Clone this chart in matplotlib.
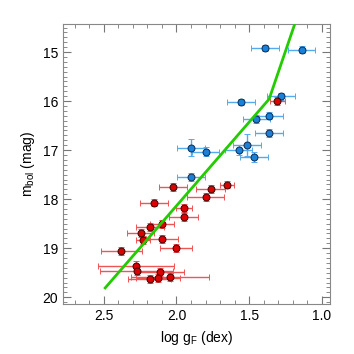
import matplotlib
matplotlib.use("Agg")
import matplotlib.pyplot as plt
from matplotlib.ticker import MultipleLocator

plt.rcParams['font.family'] = ['Liberation Sans', 'DejaVu Sans']

# Blue sample
blue_x = [1.392, 1.14, 1.281, 1.555, 1.365, 1.45, 1.365, 1.90, 1.80, 1.516, 1.573, 1.468, 1.90]
blue_y = [14.92, 14.95, 15.90, 16.02, 16.30, 16.36, 16.65, 16.95, 17.03, 16.90, 16.99, 17.14, 17.55]
blue_xerr = [0.095, 0.095, 0.095, 0.095, 0.095, 0.095, 0.095, 0.095, 0.095, 0.095, 0.095, 0.095, 0.095]
blue_yerr = [0.06, 0.07, 0.07, 0.07, 0.07, 0.08, 0.08, 0.18, 0.10, 0.22, 0.10, 0.10, 0.08]

# Red sample
red_x = [1.306, 2.023, 1.763, 1.653, 1.80, 2.153, 1.95, 1.95, 2.10, 2.181, 2.247, 2.10, 2.229,
         2.005, 2.38, 2.279, 2.274, 2.116, 2.046, 2.128, 2.185]
red_y = [16.0, 17.76, 17.80, 17.71, 17.96, 18.07, 18.18, 18.37, 18.51, 18.56, 18.69, 18.82, 18.84,
         18.99, 19.05, 19.37, 19.47, 19.49, 19.59, 19.60, 19.63]
red_xerr = [0.05, 0.095, 0.10, 0.05, 0.13, 0.095, 0.055, 0.10, 0.085, 0.095, 0.095, 0.11, 0.05,
            0.11, 0.14, 0.26, 0.25, 0.17, 0.27, 0.15, 0.15]
red_yerr = [0.08, 0.08, 0.08, 0.07, 0.08, 0.08, 0.08, 0.08, 0.08, 0.08, 0.08, 0.08, 0.08,
            0.08, 0.08, 0.10, 0.08, 0.08, 0.08, 0.08, 0.08]

# Green relation
line_x = [2.49, 1.363, 1.187]
line_y = [19.81, 15.96, 14.43]

fig = plt.figure(figsize=(3.54, 3.54), dpi=100)
ax = fig.add_axes([0.178, 0.141, 0.754, 0.791])

ax.errorbar(blue_x, blue_y, xerr=blue_xerr, yerr=blue_yerr, fmt='o', ms=5,
            mfc='#1a80d8', mec='#0a2a50', mew=0.7, ecolor='#55aaee', elinewidth=1.0,
            capsize=2, capthick=1.0, zorder=3)
ax.errorbar(red_x, red_y, xerr=red_xerr, yerr=red_yerr, fmt='o', ms=5,
            mfc='#dd0000', mec='#400000', mew=0.7, ecolor='#ee5555', elinewidth=1.0,
            capsize=2, capthick=1.0, zorder=3)
ax.plot(line_x, line_y, color='#22cc00', lw=2, zorder=4)

ax.set_xlim(2.78, 0.945)
ax.set_ylim(20.14, 14.43)
ax.xaxis.set_major_locator(MultipleLocator(0.5))
ax.xaxis.set_minor_locator(MultipleLocator(0.1))
ax.yaxis.set_major_locator(MultipleLocator(1))
ax.yaxis.set_minor_locator(MultipleLocator(0.1))
ax.tick_params(which='both', direction='in', top=True, right=True, colors='#777777',
               labelcolor='black', labelsize=10)
ax.tick_params(which='major', length=6)
ax.tick_params(which='minor', length=3)
for s in ax.spines.values():
    s.set_color('#888888')

ax.set_xlabel(r'log g$_\mathregular{F}$ (dex)', fontsize=10)
ax.set_ylabel(r'm$_\mathregular{bol}$ (mag)', fontsize=10)

fig.savefig('out.png', dpi=100)
